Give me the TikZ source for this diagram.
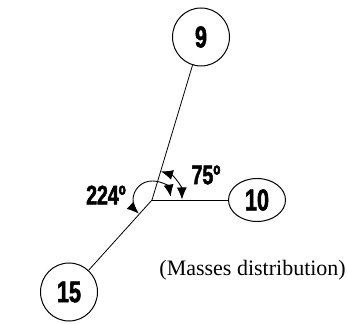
\documentclass[tikz,border=0pt]{standalone}
\usepackage{fontspec}
\setmainfont{Liberation Serif}
\newfontfamily\numfont[FakeStretch=0.72,FakeBold=1.8]{Liberation Sans}
\usetikzlibrary{arrows.meta,calc,shapes.geometric}
\tikzset{angtip/.tip={Latex[length=12pt,width=10pt]}}
\begin{document}
\begin{tikzpicture}[x=1pt,y=1pt,
  mass/.style={draw,ellipse,line width=1pt,minimum width=57pt,minimum height=50pt,inner sep=0pt,font=\numfont\bfseries\fontsize{30}{30}\selectfont},
  bar/.style={line width=0.8pt},
  ang/.style={line width=0.9pt,angtip-angtip},
  anglbl/.style={font=\numfont\bfseries\fontsize{27}{27}\selectfont,inner sep=0pt}]
\useasboundingbox (0,0) rectangle (347,323);
\coordinate (O) at (152,123);
\node[mass,minimum height=58pt] (n9) at (201,286) {9};
\node[mass,minimum height=43pt] (n10) at (257,123) {10};
\node[mass,minimum height=58pt] (n15) at (69,31) {15};
\draw[bar] (O) -- (n9);
\draw[bar] (O) -- (n10);
\draw[bar] (O) -- (n15);
\draw[ang] ($(O)+(72.7:30)$) arc[start angle=72.7,end angle=1,radius=30];
\draw[ang] ($(O)+(10:19)$) arc[start angle=10,end angle=226,radius=19];
\node[anglbl] (a75) at (206,148) {75º};
\node[anglbl] (a224) at (106,128) {224º};
\node[anchor=east,font=\fontsize{22}{22}\selectfont,inner sep=0pt] (cap) at (346,53) {(Masses distribution)};
\end{tikzpicture}
\end{document}
